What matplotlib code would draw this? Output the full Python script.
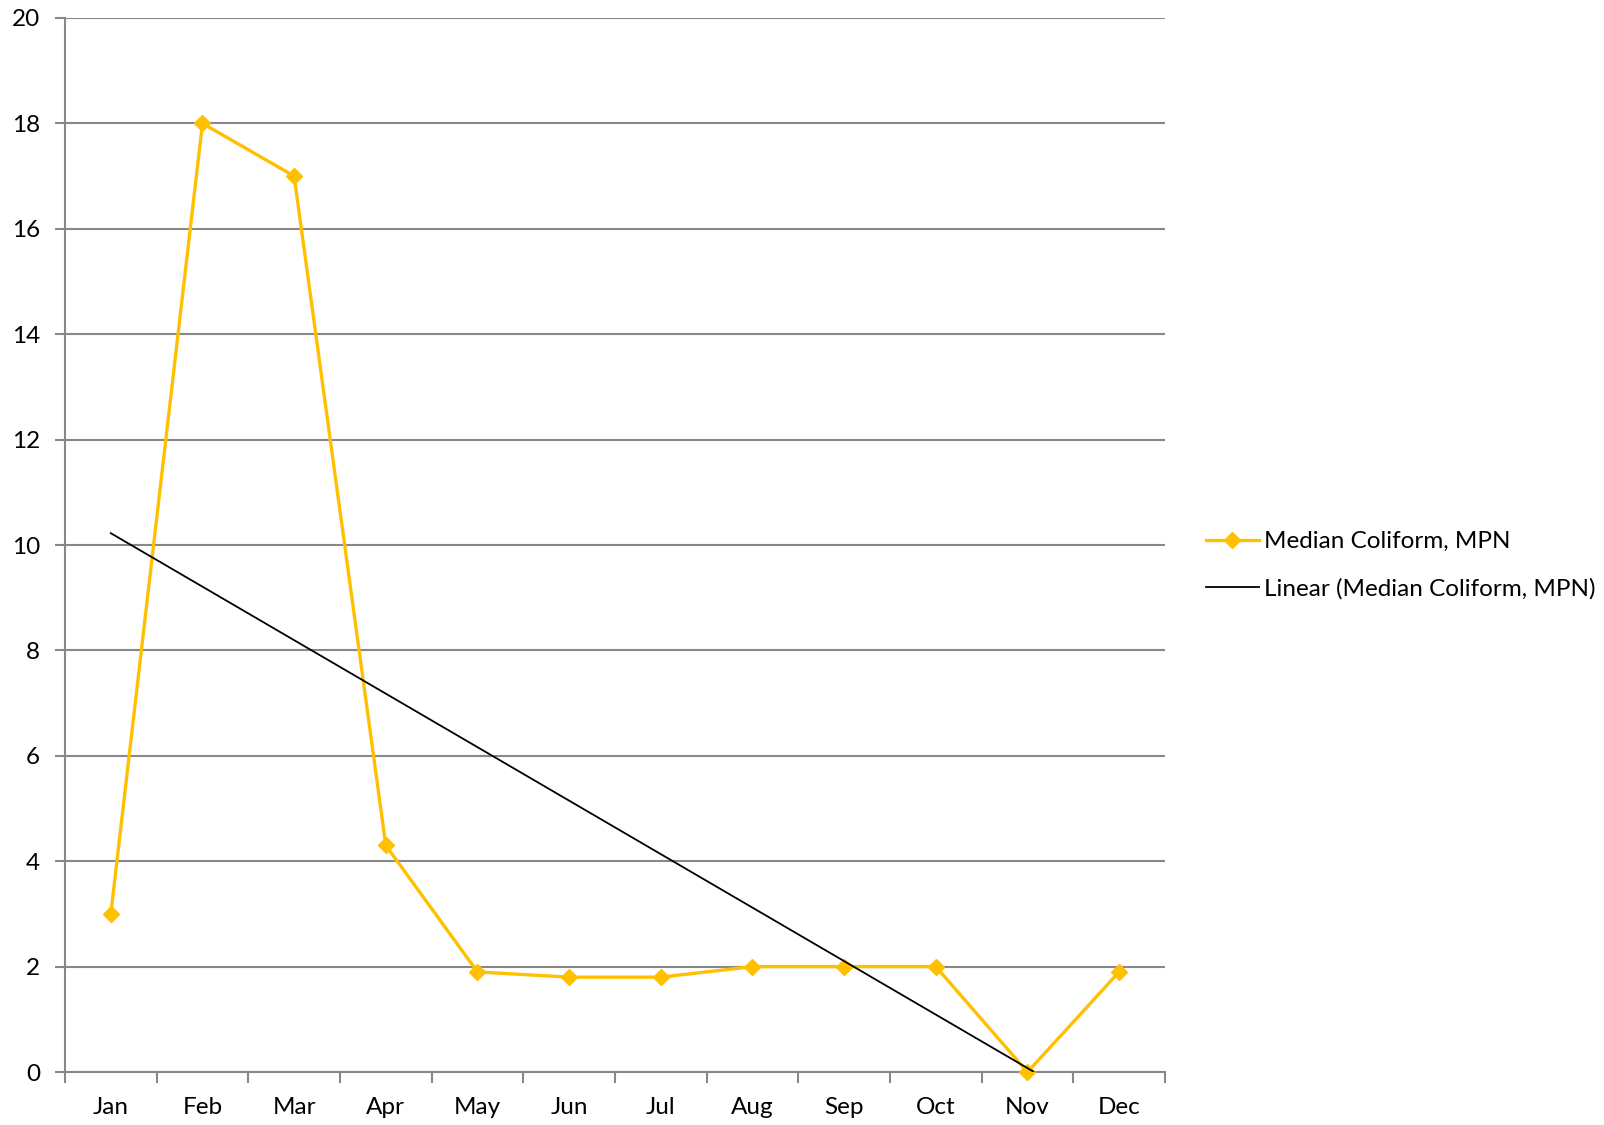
import numpy as np
import matplotlib
matplotlib.use("Agg")
import matplotlib.pyplot as plt
from matplotlib.lines import Line2D

months = ["Jan", "Feb", "Mar", "Apr", "May", "Jun", "Jul", "Aug", "Sep", "Oct", "Nov", "Dec"]
coliform = [3, 18, 17, 4.3, 1.9, 1.8, 1.8, 2, 2, 2, 0, 1.9]
y_ticks = [0, 2, 4, 6, 8, 10, 12, 14, 16, 18, 20]

plt.rcParams["font.family"] = ["Lato", "DejaVu Sans"]

fig = plt.figure(figsize=(16.04, 11.25), dpi=100)
ax = fig.add_axes([0.0405, 0.0471, 0.7263 - 0.0405, 0.984 - 0.0471])

x = np.arange(1, len(months) + 1)
gold = "#FFC000"
grid_c = "#888888"

# horizontal gridlines
for v in y_ticks:
    ax.axhline(v, color=grid_c, lw=1.5, zorder=1)

# data series
ax.plot(x, coliform, color=gold, lw=2.4, marker="D", markersize=8,
        markerfacecolor=gold, markeredgecolor=gold, zorder=3, clip_on=False)

# linear trend over all months, clipped at the axis floor
slope, intercept = np.polyfit(x, coliform, 1)
xt = np.linspace(1, 12, 400)
yt = slope * xt + intercept
mask = yt >= 0
ax.plot(xt[mask], yt[mask], color="black", lw=1.3, zorder=4)

ax.set_xlim(0.5, 12.5)
ax.set_ylim(0, 20)
ax.set_yticks(y_ticks)
ax.set_yticklabels([str(v) for v in y_ticks], fontsize=17.5)
ax.set_xticks(x)
ax.set_xticklabels(months, fontsize=17.5)
ax.tick_params(axis="x", which="major", length=0, pad=18)
ax.set_xticks(np.arange(0.5, 13.0, 1.0), minor=True)
ax.tick_params(axis="x", which="minor", length=8, width=1.5, color=grid_c, direction="out")
ax.tick_params(axis="y", length=7, width=1.5, color=grid_c, direction="out", pad=11)

for s in ["top", "right"]:
    ax.spines[s].set_visible(False)
for s in ["left", "bottom"]:
    ax.spines[s].set_color(grid_c)
    ax.spines[s].set_linewidth(1.5)
ax.spines["bottom"].set_zorder(2)

handles = [
    Line2D([], [], color=gold, lw=2.4, marker="D", markersize=8, markerfacecolor=gold, markeredgecolor=gold),
    Line2D([], [], color="black", lw=1.3),
]
labels = ["Median Coliform, MPN", "Linear (Median Coliform, MPN)"]
fig.legend(handles, labels, loc="center left", bbox_to_anchor=(0.7455, 0.4975), frameon=False,
           fontsize=17.5, handlelength=2.2, handletextpad=0.2, labelspacing=1.05, borderaxespad=0)

fig.savefig("out.png", dpi=100, facecolor="white")
